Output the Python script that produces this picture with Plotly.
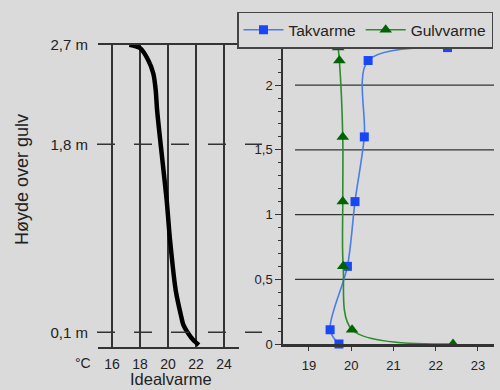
import plotly.graph_objects as go

# ---- data ----
ideal_temp = [17.24, 18.0, 18.59, 18.95, 19.12, 19.22, 19.5, 19.9, 20.14, 20.55, 20.95, 21.09, 21.45, 21.81, 22.2]
ideal_height = [2.70, 2.67, 2.56, 2.44, 2.29, 2.11, 1.77, 1.30, 0.94, 0.48, 0.24, 0.17, 0.09, 0.03, -0.015]
left_ticks = [16, 18, 20, 22, 24]
left_height_vals = [0.1, 1.8, 2.7]
left_height_text = ["0,1 m", "1,8 m", "2,7 m"]
dashed_heights = [0.1, 1.8]

heights = [0, 0.11, 0.6, 1.1, 1.6, 2.19, 2.29]
takvarme = [19.71, 19.50, 19.91, 20.09, 20.31, 20.40, 22.28]
gulvvarme = [22.41, 20.02, 19.81, 19.80, 19.80, 19.72, 19.69]
right_grid = [0.5, 1, 1.5, 2]
right_xticks = [19, 20, 21, 22, 23]

BG = "#dadada"
INK = "#333333"
FONT = "Arial, Liberation Sans, sans-serif"
W, H = 500, 390

def px(x):
    return x / W

def py(y):
    return 1 - y / H

fig = go.Figure()

fig.add_trace(go.Scatter(
    x=ideal_temp, y=ideal_height, mode="lines",
    line=dict(color="black", width=4.5, shape="spline", smoothing=0.8),
    xaxis="x", yaxis="y", showlegend=False, cliponaxis=False, hoverinfo="skip"))

fig.add_trace(go.Scatter(
    x=takvarme, y=heights, mode="lines+markers", name="Takvarme",
    line=dict(color="#4a7de8", width=1.6, shape="spline", smoothing=0.9),
    marker=dict(symbol="square", size=9, color="#1a47f5"),
    xaxis="x2", yaxis="y2", cliponaxis=False))

fig.add_trace(go.Scatter(
    x=gulvvarme, y=heights, mode="lines+markers", name="Gulvvarme",
    line=dict(color="#2e8b2e", width=1.6, shape="spline", smoothing=0.9),
    marker=dict(symbol="triangle-up", size=11, color="#006400"),
    xaxis="x2", yaxis="y2", cliponaxis=False))

shapes = []
for h in dashed_heights:
    shapes.append(dict(type="line", xref="paper", yref="y",
                       x0=px(97), x1=px(262), y0=h, y1=h,
                       line=dict(color=INK, width=1.6, dash="18px,19px")))
for g in right_grid:
    shapes.append(dict(type="line", xref="x2", yref="y2",
                       x0=18.67, x1=23.38, y0=g, y1=g, layer="below",
                       line=dict(color=INK, width=1.2)))

annotations = [
    dict(text="°C", xref="paper", yref="paper", x=px(83), y=py(363),
         xanchor="center", yanchor="middle",
         showarrow=False, font=dict(size=14, color="#222", family=FONT)),
    dict(text="Idealvarme", xref="paper", yref="paper", x=px(171), y=py(368),
         xanchor="center", yanchor="top", showarrow=False,
         font=dict(size=16.5, color="#222", family=FONT)),
    dict(text="Høyde over gulv", xref="paper", yref="paper", x=px(22), y=py(180),
         xanchor="center", yanchor="middle",
         textangle=-90, showarrow=False, font=dict(size=18, color="#222", family=FONT)),
]

fig.update_layout(
    width=W, height=H, margin=dict(l=0, r=0, t=0, b=0, autoexpand=False),
    paper_bgcolor=BG, plot_bgcolor=BG, separators=", ",
    font=dict(family=FONT, color="#222"),
    shapes=shapes, annotations=annotations,
    xaxis=dict(domain=[px(98), px(239)], range=[15.0, 25.07],
               tickmode="array", tickvals=left_ticks,
               showgrid=True, gridcolor=INK, gridwidth=1.6,
               showline=True, mirror=True, linecolor=INK, linewidth=2,
               zeroline=False, ticks="", tickfont=dict(size=14),
               ticklabelstandoff=3, anchor="y", automargin=False),
    yaxis=dict(domain=[py(346.7), py(44.7)], range=[-0.03, 2.7],
               tickmode="array", tickvals=left_height_vals, ticktext=left_height_text,
               showgrid=False, zeroline=False, showline=False, ticks="",
               tickfont=dict(size=15), ticklabelstandoff=9, anchor="x", automargin=False),
    xaxis2=dict(domain=[px(283), px(494)], range=[18.385, 23.38],
                tickmode="array", tickvals=right_xticks,
                showgrid=False, zeroline=False,
                showline=True, linecolor=INK, linewidth=2.5,
                ticks="outside", ticklen=4, tickcolor=INK, tickwidth=1.2,
                tickfont=dict(size=13), ticklabelstandoff=4, anchor="y2", automargin=False),
    yaxis2=dict(domain=[py(344), py(45)], range=[0, 2.31],
                tickmode="linear", tick0=0, dtick=0.5,
                showgrid=False, zeroline=False,
                showline=True, linecolor=INK, linewidth=1.5,
                ticks="outside", ticklen=6, tickcolor=INK, tickwidth=1.2,
                minor=dict(dtick=0.1, tick0=0, ticks="outside", ticklen=3,
                           tickcolor=INK, tickwidth=1, showgrid=False),
                tickfont=dict(size=13), anchor="x2", automargin=False),
    legend=dict(orientation="h", x=px(237), y=py(11.7), xanchor="left", yanchor="top",
                bgcolor=BG, bordercolor="#444", borderwidth=1.5,
                font=dict(size=15.5, family=FONT, color="#222"),
                itemwidth=40),
)

fig.write_html("out.html", config={"displayModeBar": False},
               post_script="document.body.style.margin='0px';")
